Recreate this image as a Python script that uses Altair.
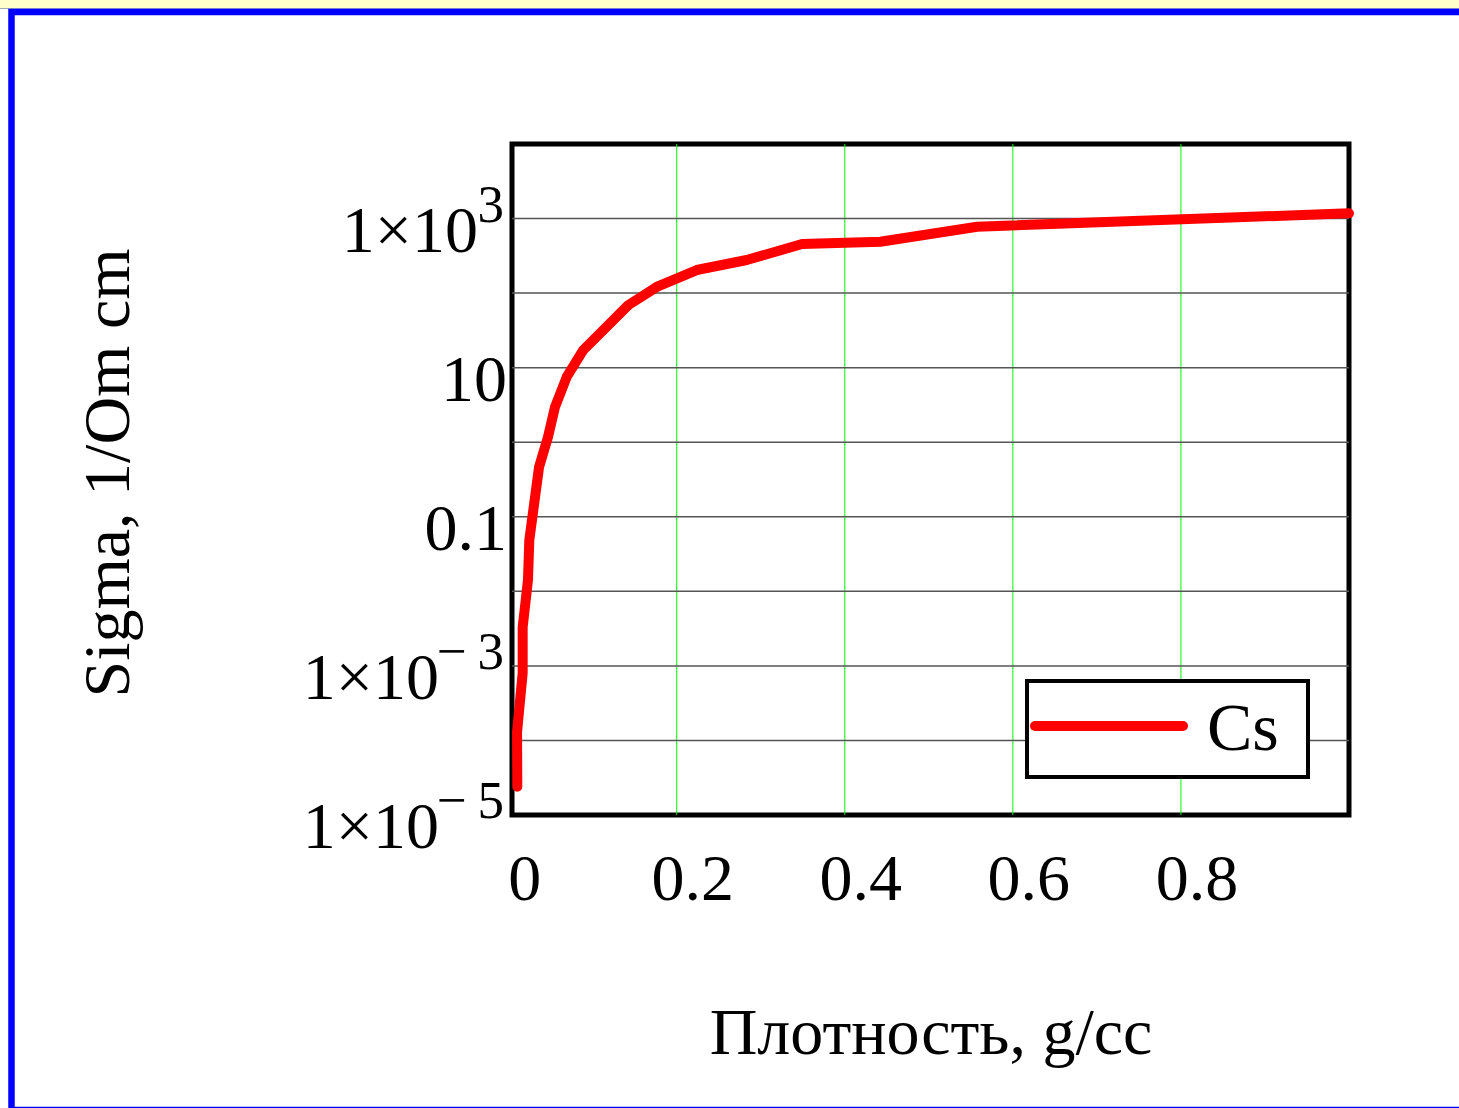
import altair as alt
import pandas as pd

# ---------------- data ----------------
SERIES = "Cs"
DENSITY = [0.0103, 0.0100, 0.0167, 0.0167, 0.0230, 0.0246, 0.0362, 0.0468,
           0.0552, 0.0691, 0.0889, 0.1424, 0.1762, 0.2238, 0.2833, 0.3491,
           0.4423, 0.5574, 1.0]
SIGMA = [2.4e-5, 1.3e-4, 8.0e-4, 3.3e-3, 0.0142, 0.0488, 0.465, 1.17,
         2.97, 7.5, 17.3, 69, 121, 204, 278, 455,
         489, 777, 1175]

X_TICKS = [0, 0.2, 0.4, 0.6, 0.8]
X_TICK_LABELS = ["0", "0.2", "0.4", "0.6", "0.8"]
X_GRID = [0.2, 0.4, 0.6, 0.8]
Y_GRID = [1e-4, 1e-3, 1e-2, 1e-1, 1, 10, 100, 1000]
Y_LABEL_VALUES = [1e3, 10, 0.1, 1e-3, 1e-5]
Y_LABEL_MAIN = ["1\u00d710", "10", "0.1", "1\u00d710", "1\u00d710"]
Y_LABEL_EXP = ["3", "", "", "\u2212\u20093", "\u2212\u20095"]

X_TITLE = "Плотность, g/cc"
Y_TITLE = "Sigma, 1/Om cm"

FONT = "Liberation Serif"

df = pd.DataFrame({"density": DENSITY, "sigma": SIGMA,
                   "idx": list(range(len(DENSITY))), "series": SERIES})
lab = pd.DataFrame({"sigma": Y_LABEL_VALUES, "main": Y_LABEL_MAIN,
                    "exp": Y_LABEL_EXP})
xlab = pd.DataFrame({"density": X_TICKS, "label": X_TICK_LABELS})
xg = pd.DataFrame({"density": X_GRID})
yg = pd.DataFrame({"sigma": Y_GRID})

W, H = 837, 671

xscale = alt.Scale(domain=[0.004, 1], nice=False, zero=False)
yscale = alt.Scale(type="log", domain=[1e-5, 1e4], nice=False)

X_AXIS = alt.Axis(grid=False, domain=False, ticks=False, labels=False,
                  title=X_TITLE, titleFont=FONT, titleFontSize=66,
                  titleFontWeight="normal", titleColor="black",
                  titleX=418.5, titleY=238, titleAlign="center",
                  titleBaseline="alphabetic")
Y_AXIS = alt.Axis(grid=False, domain=False, ticks=False, labels=False,
                  title=Y_TITLE, titleFont=FONT, titleFontSize=66,
                  titleFontWeight="normal", titleColor="black",
                  titleAngle=270, titleX=-384, titleY=328.5,
                  titleAlign="center", titleBaseline="alphabetic")

X_ENC = alt.X("density:Q", scale=xscale, axis=X_AXIS)
Y_ENC = alt.Y("sigma:Q", scale=yscale, axis=Y_AXIS)

vgrid = alt.Chart(xg).mark_rule(color="#00ff00", strokeWidth=1).encode(x=X_ENC)
hgrid = alt.Chart(yg).mark_rule(color="#555555", strokeWidth=1.5).encode(y=Y_ENC)

line = alt.Chart(df).mark_line(
    color="#ff0000", strokeWidth=10, strokeCap="round", strokeJoin="round"
).encode(x=X_ENC, y=Y_ENC, order="idx:Q")

x_labels = alt.Chart(xlab).mark_text(
    align="center", baseline="alphabetic", font=FONT, fontSize=66,
    dx=16, color="black"
).encode(x=X_ENC, y=alt.value(H + 85), text="label:N")


def ylab(filter_expr, x, size, dy, field):
    return alt.Chart(lab).transform_filter(filter_expr).mark_text(
        align="right", baseline="alphabetic", font=FONT, fontSize=size,
        dy=dy, color="black"
    ).encode(x=alt.value(x), y=Y_ENC, text=f"{field}:N")


lab_plain = ylab("datum.exp == ''", -5, 66, 33, "main")
lab_pos = ylab("datum.exp != '' && datum.sigma > 1", -34, 66, 33, "main")
lab_neg = ylab("datum.exp != '' && datum.sigma < 1", -73, 66, 33, "main")
lab_exp = ylab("datum.exp != ''", -8, 53, 3, "exp")

leg_df = pd.DataFrame({"s": [SERIES]})
leg_box = alt.Chart(leg_df).mark_rect(
    fill="white", stroke="black", strokeWidth=4
).encode(x=alt.value(515), x2=alt.value(796), y=alt.value(537),
         y2=alt.value(633))
leg_line = alt.Chart(leg_df).mark_rule(
    color="#ff0000", strokeWidth=10, strokeCap="round"
).encode(x=alt.value(523), x2=alt.value(671), y=alt.value(582))
leg_text = alt.Chart(leg_df).mark_text(
    align="left", baseline="alphabetic", font=FONT, fontSize=68, color="black"
).encode(x=alt.value(695), y=alt.value(606), text="s:N")

# page decoration (yellow strip + blue frame)
strip = alt.Chart(leg_df).mark_rect(color="#ffffcc").encode(
    x=alt.value(-512), x2=alt.value(947), y=alt.value(-144), y2=alt.value(-136))
strip_line = alt.Chart(leg_df).mark_rule(color="#a0a8c0", strokeWidth=1).encode(
    x=alt.value(-512), x2=alt.value(947), y=alt.value(-135.5))
frame = alt.Chart(leg_df).mark_rect(
    fillOpacity=0, stroke="#0000ff", strokeWidth=6.5
).encode(x=alt.value(-500.5), x2=alt.value(952), y=alt.value(-132),
         y2=alt.value(966))

chart = alt.layer(
    strip, strip_line, frame, vgrid, hgrid, line, x_labels, lab_plain,
    lab_pos, lab_neg, lab_exp, leg_box, leg_line, leg_text
).properties(
    width=W, height=H,
    autosize=alt.AutoSizeParams(type="none"),
    padding={"left": 512, "top": 144, "right": 110, "bottom": 293},
    background="white",
).configure_view(stroke="black", strokeWidth=5)

chart.save("out.html", embed_options={"renderer": "svg", "actions": False})
